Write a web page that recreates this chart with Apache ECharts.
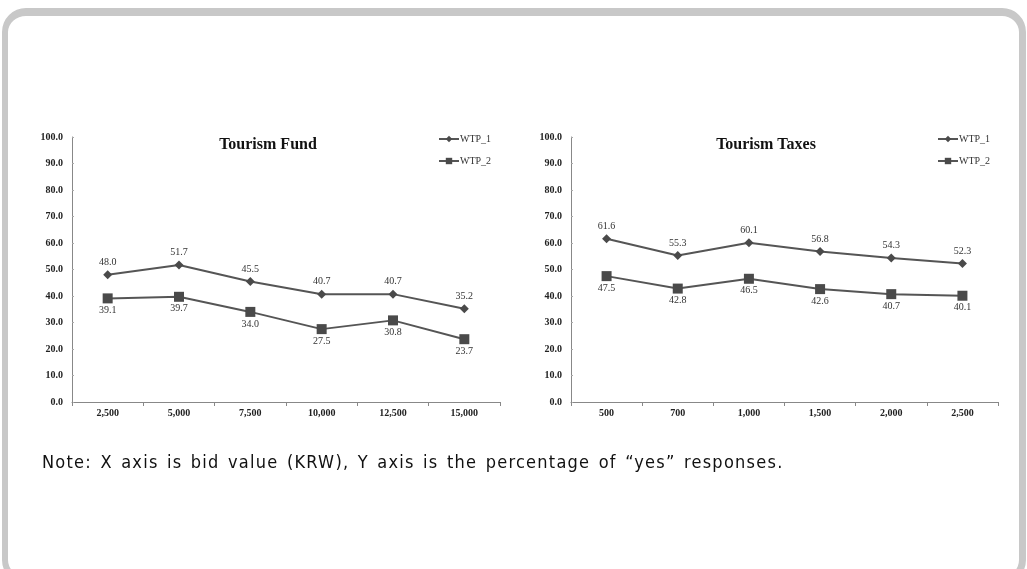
<!DOCTYPE html>
<html>
<head>
<meta charset="utf-8">
<script src="https://cdn.jsdelivr.net/npm/echarts@6/dist/echarts.min.js"></script>
<style>
  html, body { margin: 0; padding: 0; background: #ffffff; width: 1027px; height: 569px; overflow: hidden; }
  #frame { position: absolute; left: 2px; top: 8px; width: 1011px; height: 561px;
           border-style: solid; border-color: #c8c8c8; border-width: 8px 7px 7px 6px;
           border-radius: 24px; background: #ffffff; }
  #chart { position: absolute; left: 0; top: 0; width: 1027px; height: 569px; }
  #note { position: absolute; left: 42px; top: 451px; font: 18px "DejaVu Sans Condensed", "DejaVu Sans", sans-serif;
          line-height: 22px; letter-spacing: 1.25px; word-spacing: 2px; color: #111; white-space: nowrap; }
</style>
</head>
<body>
<div id="frame"></div>
<div id="chart"></div>
<div id="note"></div>
<script>
// ---- data ----
const fundCategories = ['2,500', '5,000', '7,500', '10,000', '12,500', '15,000'];
const fundWTP1 = [48.0, 51.7, 45.5, 40.7, 40.7, 35.2];
const fundWTP2 = [39.1, 39.7, 34.0, 27.5, 30.8, 23.7];

const taxCategories = ['500', '700', '1,000', '1,500', '2,000', '2,500'];
const taxWTP1 = [61.6, 55.3, 60.1, 56.8, 54.3, 52.3];
const taxWTP2 = [47.5, 42.8, 46.5, 42.6, 40.7, 40.1];

const titles = ['Tourism Fund', 'Tourism Taxes'];
const seriesNames = ['WTP_1', 'WTP_2'];
const noteText = 'Note: X axis is bid value (KRW), Y axis is the percentage of \u201cyes\u201d responses.';

document.getElementById('note').textContent = noteText;

// ---- chart ----
const serif = '"Liberation Serif", "DejaVu Serif", serif';
const lineColor = '#555555';
const chart = echarts.init(document.getElementById('chart'), null, { renderer: 'canvas' });

const grids = [
  { left: 72, top: 137, width: 428, height: 265 },
  { left: 571, top: 137, width: 427, height: 265 }
];

function xAxis(idx, cats) {
  return {
    type: 'category', gridIndex: idx, data: cats, boundaryGap: true,
    axisLine: { lineStyle: { color: '#888', width: 1 } },
    axisTick: { show: true, length: 4, lineStyle: { color: '#888' } },
    axisLabel: { color: '#222', fontFamily: serif, fontSize: 10, fontWeight: 'bold', margin: 6 },
    splitLine: { show: false }
  };
}
function yAxis(idx) {
  return {
    type: 'value', gridIndex: idx, min: 0, max: 100, interval: 10,
    axisLine: { show: true, lineStyle: { color: '#888', width: 1 } },
    axisTick: { show: true, inside: true, length: 2, lineStyle: { color: '#aaa' } },
    axisLabel: { color: '#222', fontFamily: serif, fontSize: 10, fontWeight: 'bold', margin: 9,
                 formatter: v => v.toFixed(1) },
    splitLine: { show: false }
  };
}
function series(idx, name, data, isFirst) {
  return {
    type: 'line', name: name, xAxisIndex: idx, yAxisIndex: idx, data: data,
    symbol: isFirst ? 'diamond' : 'rect',
    symbolSize: isFirst ? 9 : 10,
    lineStyle: { color: lineColor, width: 2 },
    itemStyle: { color: '#4a4a4a' },
    label: {
      show: true, position: isFirst ? 'top' : 'bottom', distance: isFirst ? 3 : 2,
      fontFamily: serif, fontSize: 10, color: '#333',
      formatter: p => p.value.toFixed(1)
    },
    emphasis: { disabled: true },
    animation: false
  };
}

function legend(left) {
  return {
    data: seriesNames.map(n => ({ name: n })), orient: 'vertical', left: left, top: 134, padding: 0,
    itemWidth: 20, itemHeight: 8, itemGap: 12, selectedMode: false,
    textStyle: { fontFamily: serif, fontSize: 10, color: '#333', padding: [0, 0, 0, -4] }
  };
}

const option = {
  animation: false,
  backgroundColor: 'transparent',
  title: [
    { text: titles[0], left: 268, top: 137, textAlign: 'center', padding: 0,
      textStyle: { fontFamily: serif, fontSize: 16, fontWeight: 'bold', color: '#111' } },
    { text: titles[1], left: 766, top: 137, textAlign: 'center', padding: 0,
      textStyle: { fontFamily: serif, fontSize: 16, fontWeight: 'bold', color: '#111' } }
  ],
  legend: [legend(438), legend(937)],
  grid: grids,
  xAxis: [xAxis(0, fundCategories), xAxis(1, taxCategories)],
  yAxis: [yAxis(0), yAxis(1)],
  series: [
    series(0, seriesNames[0], fundWTP1, true),
    series(0, seriesNames[1], fundWTP2, false),
    series(1, seriesNames[0], taxWTP1, true),
    series(1, seriesNames[1], taxWTP2, false)
  ]
};
chart.setOption(option);
</script>
</body>
</html>
